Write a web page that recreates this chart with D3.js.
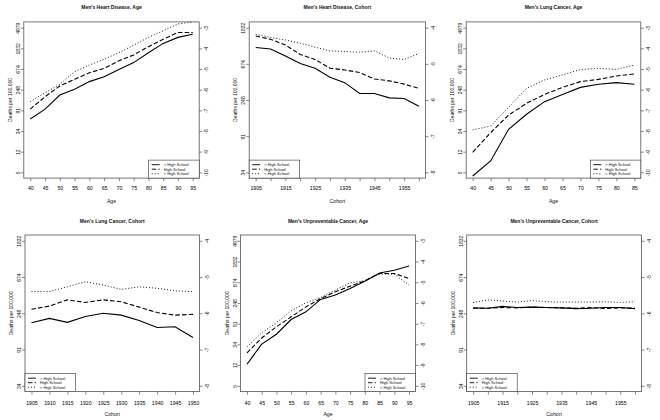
<!DOCTYPE html>
<html><head><meta charset="utf-8">
<script src="https://cdn.jsdelivr.net/npm/d3@7"></script>
<style>body{margin:0;background:#fff}</style>
</head><body><svg id="c" width="660" height="420"></svg>
<script>
// ---------- DATA (log death rates; left axis shows deaths per 100,000) ----------
const ages95 = [40,45,50,55,60,65,70,75,80,85,90,95];
const ages85 = [40,45,50,55,60,65,70,75,80,85];
const cohorts1960 = [1905,1910,1915,1920,1925,1930,1935,1940,1945,1950,1955,1960];
const cohorts1950 = [1905,1910,1915,1920,1925,1930,1935,1940,1945,1950];
const educationLevels = ["> High School","High School","< High School"];

const heartAgeAbove = [-7.42,-6.94,-6.26,-5.98,-5.61,-5.37,-5.02,-4.69,-4.21,-3.76,-3.47,-3.32];
const heartAgeHS    = [-6.94,-6.34,-5.82,-5.50,-5.18,-4.97,-4.60,-4.32,-3.92,-3.56,-3.23,-3.23];
const heartAgeBelow = [-6.58,-6.15,-5.74,-5.13,-4.81,-4.53,-4.21,-3.85,-3.47,-3.15,-2.82,-2.72];

const heartCohortAbove = [-4.55,-4.59,-4.78,-4.99,-5.12,-5.37,-5.52,-5.82,-5.82,-5.94,-5.96,-6.17];
const heartCohortHS    = [-4.23,-4.32,-4.48,-4.74,-4.88,-5.12,-5.17,-5.24,-5.42,-5.47,-5.56,-5.68];
const heartCohortBelow = [-4.18,-4.27,-4.34,-4.43,-4.54,-4.64,-4.66,-4.68,-4.64,-4.84,-4.88,-4.71];

const lungAgeAbove = [-10.18,-9.45,-7.92,-7.19,-6.58,-6.23,-5.89,-5.74,-5.66,-5.74];
const lungAgeHS    = [-9.03,-8.08,-7.23,-6.66,-6.23,-5.89,-5.61,-5.50,-5.34,-5.24];
const lungAgeBelow = [-7.95,-7.76,-6.85,-5.94,-5.53,-5.29,-5.02,-4.97,-5.02,-4.81];

const lungCohortAbove = [-6.26,-6.14,-6.25,-6.09,-6.00,-6.05,-6.20,-6.39,-6.37,-6.67];
const lungCohortHS    = [-5.89,-5.80,-5.63,-5.70,-5.63,-5.68,-5.83,-5.98,-6.05,-6.03];
const lungCohortBelow = [-5.40,-5.40,-5.27,-5.13,-5.22,-5.34,-5.27,-5.31,-5.38,-5.40];

const unprevAgeAbove = [-8.96,-7.99,-7.51,-6.80,-6.43,-5.83,-5.62,-5.30,-4.95,-4.55,-4.42,-4.22];
const unprevAgeHS    = [-8.41,-7.69,-7.15,-6.67,-6.19,-5.79,-5.46,-5.19,-4.93,-4.58,-4.58,-4.82];
const unprevAgeBelow = [-8.12,-7.44,-6.95,-6.38,-5.99,-5.74,-5.38,-5.03,-4.93,-4.61,-4.61,-5.14];

const unprevCohortAbove = [-5.85,-5.86,-5.81,-5.84,-5.83,-5.84,-5.85,-5.87,-5.86,-5.84,-5.84,-5.87];
const unprevCohortHS    = [-5.86,-5.86,-5.84,-5.85,-5.83,-5.84,-5.85,-5.86,-5.84,-5.87,-5.85,-5.86];
const unprevCohortBelow = [-5.70,-5.63,-5.66,-5.69,-5.65,-5.68,-5.69,-5.69,-5.69,-5.68,-5.70,-5.68];

const logTicksAge = [-3,-4,-5,-6,-7,-8,-9,-10];
const rateLabelsAge = ["4979","1832","674","248","91","34","12","5"];
const logTicksCohort = [-4,-5,-6,-7,-8];
const rateLabelsCohort = ["1832","674","248","91","34"];

const titles = ["Men's Heart Disease, Age","Men's Heart Disease, Cohort","Men's Lung Cancer, Age",
                "Men's Lung Cancer, Cohort","Men's Unpreventable Cancer, Age","Men's Unpreventable Cancer, Cohort"];
const yAxisTitle = "Deaths per 100,000";

// ---------- LAYOUT ----------
const FONT = "'Liberation Sans', Arial, Helvetica, sans-serif";
const rows = [
  {top:21.9, bottom:178.1, titleY:6.7, tickY:188.3, axisY:201},
  {top:235, bottom:391.6, titleY:220.7, tickY:402.7, axisY:414}
];
const panels = [
  {title:titles[0], xl:"Age", x:ages95, s:[heartAgeAbove,heartAgeHS,heartAgeBelow], yt:logTicksAge, yl:rateLabelsAge, box:[23.8,199.2], row:0, every:1, leg:"br"},
  {title:titles[1], xl:"Cohort", x:cohorts1960, s:[heartCohortAbove,heartCohortHS,heartCohortBelow], yt:logTicksCohort, yl:rateLabelsCohort, box:[249.2,425.5], row:0, every:2, leg:"bl"},
  {title:titles[2], xl:"Age", x:ages85, s:[lungAgeAbove,lungAgeHS,lungAgeBelow], yt:logTicksAge, yl:rateLabelsAge, box:[466.2,640.8], row:0, every:1, leg:"br"},
  {title:titles[3], xl:"Cohort", x:cohorts1950, s:[lungCohortAbove,lungCohortHS,lungCohortBelow], yt:logTicksCohort, yl:rateLabelsCohort, box:[25,199.5], row:1, every:1, leg:"bl"},
  {title:titles[4], xl:"Age", x:ages95, s:[unprevAgeAbove,unprevAgeHS,unprevAgeBelow], yt:logTicksAge, yl:rateLabelsAge, box:[240.5,415.5], row:1, every:1, leg:"br"},
  {title:titles[5], xl:"Cohort", x:cohorts1960, s:[unprevCohortAbove,unprevCohortHS,unprevCohortBelow], yt:logTicksCohort, yl:rateLabelsCohort, box:[466.7,641.5], row:1, every:2, leg:"bl"}
];
const dashes = [null, "4.5,2.2", "1,2"];
const widths = [1.1, 1.1, 0.9];

const svg = d3.select("#c");
svg.append("rect").attr("width",660).attr("height",420).attr("fill","#fff");

function padDomain(a,b){const p=(b-a)*0.04;return [a-p,b+p];}

panels.forEach(P=>{
  const R = rows[P.row];
  const [x0,x1] = P.box;
  const x = d3.scaleLinear().domain(padDomain(d3.min(P.x), d3.max(P.x))).range([x0,x1]);
  const y = d3.scaleLinear().domain(padDomain(d3.min(P.yt), d3.max(P.yt))).range([R.bottom,R.top]);
  const g = svg.append("g");

  // series
  const line = d3.line().x((d,i)=>x(P.x[i])).y(d=>y(d));
  P.s.forEach((ser,k)=>{
    g.append("path").attr("d",line(ser)).attr("fill","none").attr("stroke","#000")
     .attr("stroke-width",widths[k]).attr("stroke-dasharray",dashes[k]);
  });

  // box
  g.append("rect").attr("x",x0).attr("y",R.top).attr("width",x1-x0).attr("height",R.bottom-R.top)
   .attr("fill","none").attr("stroke","#555").attr("stroke-width",0.8);

  // x axis
  const xa = d3.axisBottom(x).tickValues(P.x).tickSize(3).tickPadding(2)
    .tickFormat((d,i)=> i%P.every===0 ? String(d) : "");
  const gx = g.append("g").attr("transform",`translate(0,${R.bottom})`).call(xa);
  gx.select(".domain").remove();
  gx.selectAll(".tick line").attr("stroke","#555").attr("stroke-width",0.7);
  gx.selectAll(".tick text").attr("y", R.tickY - R.bottom).attr("dy","0.35em")
    .attr("font-family",FONT).attr("font-size",5.2).attr("fill","#000");

  // left axis
  const ya = d3.axisLeft(y).tickValues(P.yt).tickSize(3).tickFormat((d,i)=>P.yl[i]);
  const gy = g.append("g").attr("transform",`translate(${x0},0)`).call(ya);
  gy.select(".domain").remove();
  gy.selectAll(".tick line").attr("stroke","#555").attr("stroke-width",0.7);
  gy.selectAll(".tick text").attr("x",null).attr("dy",null).attr("text-anchor","middle")
    .attr("transform","translate(-6,0) rotate(-90)").attr("dominant-baseline","central")
    .attr("font-family",FONT).attr("font-size",5).attr("fill","#111");

  // right axis (log rate)
  const ra = d3.axisRight(y).tickValues(P.yt).tickSize(3).tickFormat(d=>String(d));
  const gr = g.append("g").attr("transform",`translate(${x1},0)`).call(ra);
  gr.select(".domain").remove();
  gr.selectAll(".tick line").attr("stroke","#555").attr("stroke-width",0.7);
  gr.selectAll(".tick text").attr("x",null).attr("dy",null).attr("text-anchor","middle")
    .attr("transform","translate(7,0) rotate(-90)").attr("dominant-baseline","central")
    .attr("font-family",FONT).attr("font-size",5).attr("fill","#111");

  // titles
  const cx = (x0+x1)/2;
  g.append("text").attr("x",cx).attr("y",R.titleY).attr("dominant-baseline","central")
   .attr("text-anchor","middle").attr("font-family",FONT).attr("font-weight","bold")
   .attr("font-size",5).attr("fill","#111").text(P.title);
  g.append("text").attr("x",cx).attr("y",R.axisY).attr("dominant-baseline","central")
   .attr("text-anchor","middle").attr("font-family",FONT).attr("font-size",5.2)
   .attr("fill","#111").text(P.xl);
  g.append("text").attr("transform",`translate(${x0-14},${(R.top+R.bottom)/2}) rotate(-90)`)
   .attr("dominant-baseline","central").attr("text-anchor","middle").attr("font-family",FONT)
   .attr("font-size",5).attr("fill","#111").text(yAxisTitle);

  // legend
  const lw = 50.5, lh = 18;
  const lx = P.leg==="br" ? x1-lw : x0;
  const ly = R.bottom-lh;
  const lg = g.append("g");
  lg.append("rect").attr("x",lx).attr("y",ly).attr("width",lw).attr("height",lh)
    .attr("fill","#fff").attr("stroke","#333").attr("stroke-width",0.6);
  educationLevels.forEach((lab,k)=>{
    const yy = ly + 4.6 + k*4.5;
    lg.append("line").attr("x1",lx+3).attr("x2",lx+11).attr("y1",yy).attr("y2",yy)
      .attr("stroke","#000").attr("stroke-width",0.9).attr("stroke-dasharray",dashes[k]);
    lg.append("text").attr("x",lx+15).attr("y",yy).attr("dominant-baseline","central")
      .attr("font-family",FONT).attr("font-size",4).attr("fill","#111").text(lab);
  });
});
</script>
</body></html>
